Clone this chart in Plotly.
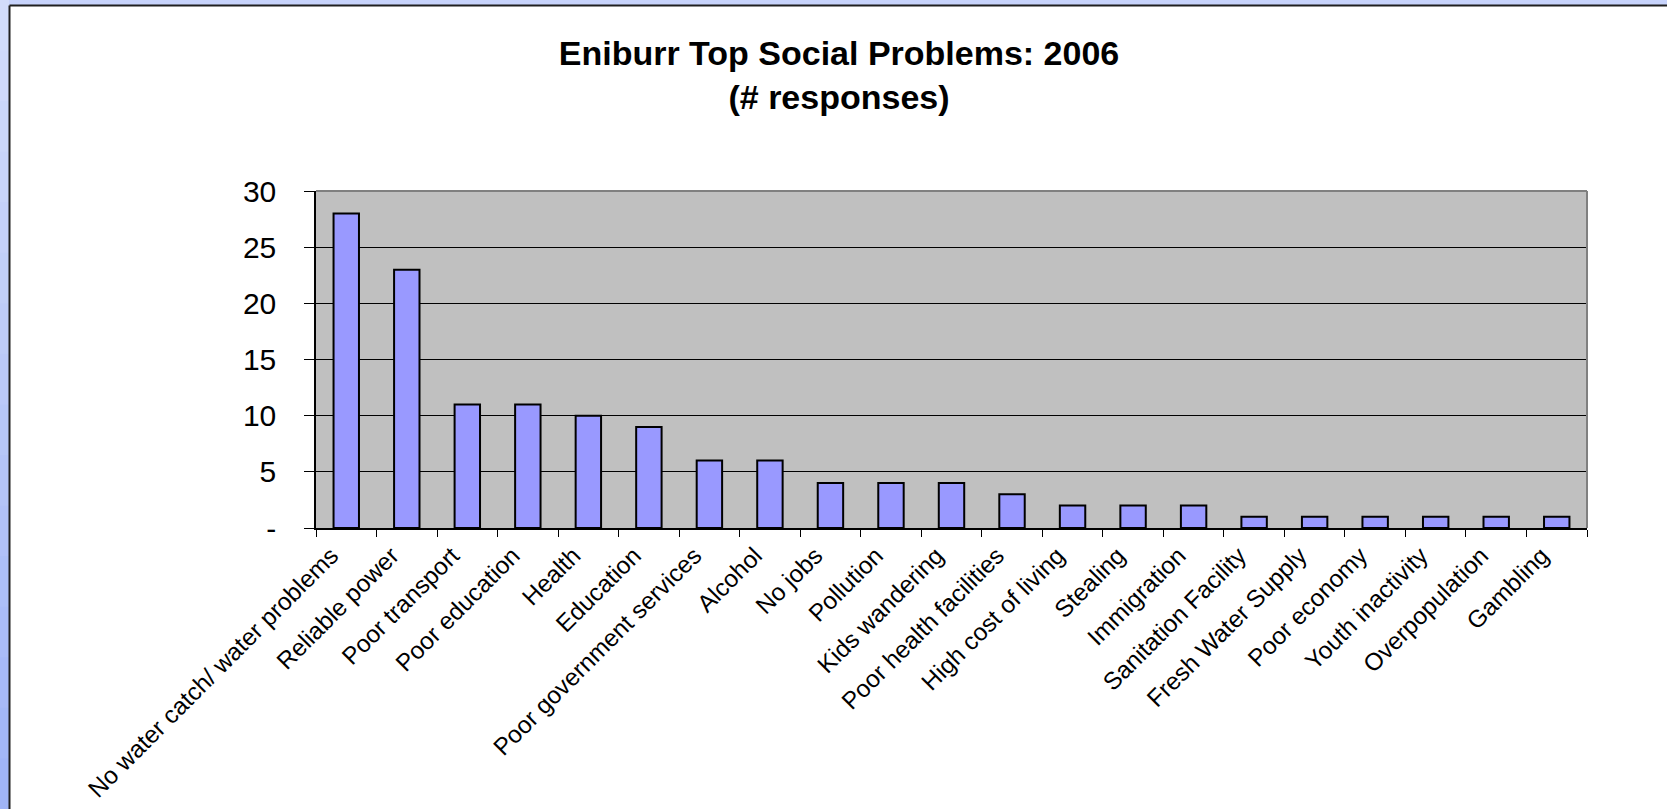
import plotly.graph_objects as go

categories = ["No water catch/ water problems", "Reliable power", "Poor transport", "Poor education",
              "Health", "Education", "Poor government services", "Alcohol", "No jobs", "Pollution",
              "Kids wandering", "Poor health facilities", "High cost of living", "Stealing",
              "Immigration", "Sanitation Facility", "Fresh Water Supply", "Poor economy",
              "Youth inactivity", "Overpopulation", "Gambling"]
responses = [28, 23, 11, 11, 10, 9, 6, 6, 4, 4, 4, 3, 2, 2, 2, 1, 1, 1, 1, 1, 1]
y_tickvals = [0, 5, 10, 15, 20, 25, 30]
y_ticktext = ["-", "5", "10", "15", "20", "25", "30"]

W, H = 1667, 809
L, R, T, B = 316, 1587, 191, 528  # plot area in pixels
pw, ph = R - L, B - T

def px_x(x):
    return (x - L) / pw

def px_y(y):
    return (B - y) / ph

fig = go.Figure()
fig.add_trace(go.Bar(
    x=categories, y=responses,
    marker=dict(color="#9999ff", line=dict(color="black", width=2)),
    hoverinfo="x+y",
))

shapes = []
# top blue strip
shapes.append(dict(type="rect", xref="paper", yref="paper",
                   x0=px_x(0), x1=px_x(W), y0=px_y(0), y1=px_y(5),
                   fillcolor="#c7d3fb", line=dict(width=0), layer="below"))
# left gradient strip
n = 16
c_top = (0xd2, 0xdc, 0xfb)
c_bot = (0xa0, 0xb4, 0xf6)
for i in range(n):
    t = i / (n - 1)
    c = tuple(int(round(c_top[k] + (c_bot[k] - c_top[k]) * t)) for k in range(3))
    y0p = i * H / n
    y1p = (i + 1) * H / n + 1
    shapes.append(dict(type="rect", xref="paper", yref="paper",
                       x0=px_x(0), x1=px_x(9), y0=px_y(y1p), y1=px_y(y0p),
                       fillcolor="rgb(%d,%d,%d)" % c, line=dict(width=0), layer="below"))
# panel border
shapes.append(dict(type="line", xref="paper", yref="paper",
                   x0=px_x(9.5), x1=px_x(9.5), y0=px_y(5.5), y1=px_y(H + 5),
                   line=dict(color="#202020", width=2)))
shapes.append(dict(type="line", xref="paper", yref="paper",
                   x0=px_x(9.5), x1=px_x(W + 5), y0=px_y(5.5), y1=px_y(5.5),
                   line=dict(color="#202020", width=2)))
# gray plot-area border top/right
shapes.append(dict(type="line", xref="paper", yref="paper",
                   x0=0, x1=1, y0=1, y1=1, line=dict(color="#808080", width=2)))
shapes.append(dict(type="line", xref="paper", yref="paper",
                   x0=1, x1=1, y0=0, y1=1, line=dict(color="#808080", width=2)))

fig.update_layout(
    width=W, height=H,
    margin=dict(l=L, r=W - R, t=T, b=H - B),
    paper_bgcolor="white",
    plot_bgcolor="#c0c0c0",
    font=dict(family="Liberation Sans, Arial, sans-serif", color="black"),
    title=dict(text="<b>Eniburr Top Social Problems: 2006<br>(# responses)</b>",
               x=839 / W, xanchor="center", xref="container", y=1 - 65 / H, yanchor="top",
               font=dict(size=34, color="black")),
    bargap=0.58,
    showlegend=False,
    shapes=shapes,
    xaxis=dict(
        type="category", tickangle=-45, tickfont=dict(size=24.3),
        ticks="outside", ticklen=7, tickcolor="black", tickson="boundaries",
        ticklabelstandoff=2, ticklabelshift=-15,
        showline=True, linecolor="black", linewidth=1.5, showgrid=False,
        automargin=False,
    ),
    yaxis=dict(
        range=[0, 30], tickvals=y_tickvals, ticktext=y_ticktext,
        tickfont=dict(size=30), ticks="outside", ticklen=10, tickcolor="black",
        ticklabelstandoff=22,
        showline=True, linecolor="black", linewidth=1.5,
        showgrid=True, gridcolor="black", gridwidth=1, zeroline=False,
        automargin=False,
    ),
)

fig.write_html("out.html", config={"displayModeBar": False},
               post_script="document.body.style.margin='0';document.body.style.overflow='hidden';")
